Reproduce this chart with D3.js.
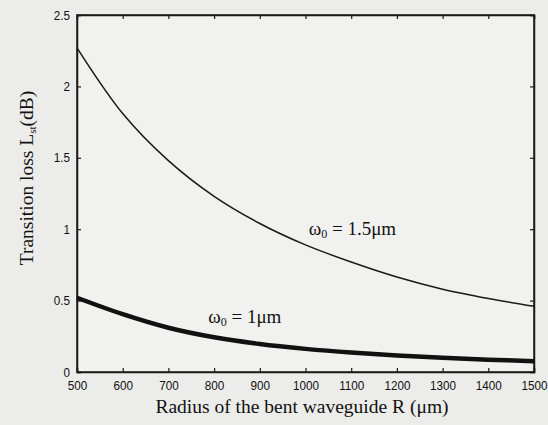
<!DOCTYPE html>
<html>
<head>
<meta charset="utf-8">
<script src="https://cdn.jsdelivr.net/npm/d3@7"></script>
<style>
  body { margin: 0; background: #ececea; }
  .tick text { font-family: "Liberation Sans", Arial, sans-serif; font-size: 13px; fill: #111; }
  .axisText { font-family: "Liberation Serif", "Times New Roman", serif; font-size: 19.5px; fill: #111; }
  .curveLabel { font-family: "Liberation Serif", "Times New Roman", serif; font-size: 19px; fill: #111; }
</style>
</head>
<body>
<div id="chart"></div>
<script>
// Define SVG area dimensions
var svgWidth = 548;
var svgHeight = 425;

var margin = { top: 15, right: 14, bottom: 53, left: 77 };
var chartWidth = svgWidth - margin.left - margin.right;
var chartHeight = svgHeight - margin.top - margin.bottom;

// data
var radius = [500, 600, 700, 800, 900, 1000, 1100, 1200, 1300, 1400, 1500];
var lossW15 = [2.27, 1.81, 1.48, 1.23, 1.04, 0.89, 0.77, 0.665, 0.58, 0.515, 0.46];
var lossW1 = [0.52, 0.405, 0.31, 0.243, 0.196, 0.162, 0.136, 0.116, 0.099, 0.086, 0.076];
var xTicks = [500, 600, 700, 800, 900, 1000, 1100, 1200, 1300, 1400, 1500];
var yTicks = [0, 0.5, 1, 1.5, 2, 2.5];

var svg = d3.select("#chart")
  .append("svg")
  .attr("width", svgWidth)
  .attr("height", svgHeight);

var chartGroup = svg.append("g")
  .attr("transform", `translate(${margin.left}, ${margin.top})`);

var xScale = d3.scaleLinear().domain([500, 1500]).range([0, chartWidth]);
var yScale = d3.scaleLinear().domain([0, 2.5]).range([chartHeight, 0]);

// frame
chartGroup.append("rect")
  .attr("width", chartWidth)
  .attr("height", chartHeight)
  .attr("fill", "#f1f1ef")
  .attr("stroke", "#1a1a1a")
  .attr("stroke-width", 1.5);

// axes, ticks pointing inward
var bottomAxis = d3.axisBottom(xScale).tickValues(xTicks).tickSize(-4).tickPadding(9).tickFormat(d3.format("d"));
var leftAxis = d3.axisLeft(yScale).tickValues(yTicks).tickSize(-4).tickPadding(7).tickFormat(d => d);
var topAxis = d3.axisTop(xScale).tickValues(xTicks).tickSize(-4).tickFormat("");
var rightAxis = d3.axisRight(yScale).tickValues(yTicks).tickSize(-4).tickFormat("");

chartGroup.append("g").attr("transform", `translate(0, ${chartHeight})`).call(bottomAxis);
chartGroup.append("g").call(leftAxis);
chartGroup.append("g").call(topAxis);
chartGroup.append("g").attr("transform", `translate(${chartWidth}, 0)`).call(rightAxis);

chartGroup.selectAll(".domain").attr("stroke", "#1a1a1a").attr("stroke-width", 1.5);
chartGroup.selectAll(".tick line").attr("stroke", "#1a1a1a").attr("stroke-width", 1.2);
chartGroup.selectAll(".tick text").attr("transform", "scale(0.9,1)").each(function() {
  var t = d3.select(this);
  t.attr("x", (+t.attr("x") || 0) / 0.9);
});

// curves
var line = d3.line()
  .x((d, i) => xScale(radius[i]))
  .y(d => yScale(d))
  .curve(d3.curveCatmullRom);

chartGroup.append("path")
  .datum(lossW15)
  .attr("d", line)
  .attr("fill", "none")
  .attr("stroke", "#1a1a1a")
  .attr("stroke-width", 1.5);

chartGroup.append("path")
  .datum(lossW1)
  .attr("d", line)
  .attr("fill", "none")
  .attr("stroke", "#111")
  .attr("stroke-width", 4.5);

// curve labels
var lab1 = chartGroup.append("text")
  .attr("class", "curveLabel")
  .attr("x", xScale(1007))
  .attr("y", yScale(0.96));
lab1.append("tspan").text("ω");
lab1.append("tspan").attr("baseline-shift", "-25%").attr("font-size", "12px").text("0");
lab1.append("tspan").text(" = 1.5μm");

var lab2 = chartGroup.append("text")
  .attr("class", "curveLabel")
  .attr("x", xScale(787))
  .attr("y", yScale(0.345));
lab2.append("tspan").text("ω");
lab2.append("tspan").attr("baseline-shift", "-25%").attr("font-size", "12px").text("0");
lab2.append("tspan").text(" = 1μm");

// axis titles
var yTitle = chartGroup.append("text")
  .attr("class", "axisText")
  .attr("transform", "rotate(-90)")
  .attr("x", 0 - 163)
  .attr("y", -44)
  .attr("text-anchor", "middle");
yTitle.append("tspan").text("Transition loss L");
yTitle.append("tspan").attr("baseline-shift", "-25%").attr("font-size", "11px").text("st");
yTitle.append("tspan").text("(dB)");

chartGroup.append("text")
  .attr("class", "axisText")
  .attr("x", 225)
  .attr("y", chartHeight + 41)
  .attr("text-anchor", "middle")
  .text("Radius of the bent waveguide R (μm)");
</script>
</body>
</html>
